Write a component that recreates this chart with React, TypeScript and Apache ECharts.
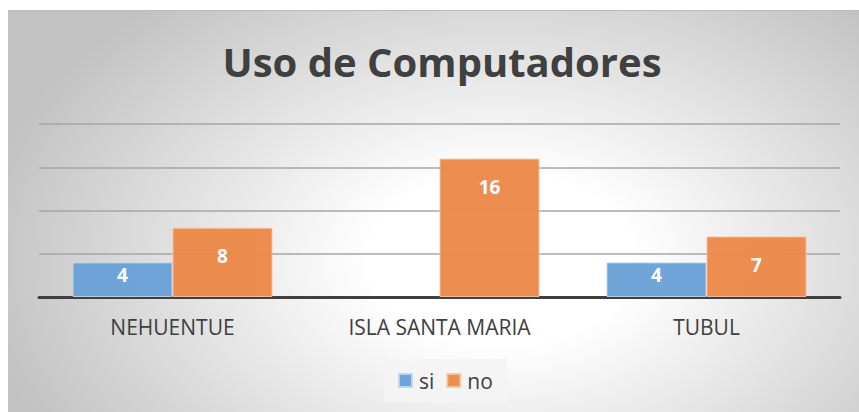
import React, { useEffect, useRef } from "react";
import * as echarts from "echarts";

const categories = ["NEHUENTUE", "ISLA SANTA MARIA", "TUBUL"];
const siValues: (number | null)[] = [4, null, 4];
const noValues: (number | null)[] = [8, 16, 7];
const seriesNames = ["si", "no"];
const titleText = "Uso de Computadores";

const FONT = "'Open Sans', 'Noto Sans', sans-serif";

function mkData(vals: (number | null)[]) {
  return vals.map((v) =>
    v == null
      ? null
      : {
          value: v,
          label: { distance: v <= 4 ? 3 : 19 },
        }
  );
}

export default function App() {
  const ref = useRef<HTMLDivElement>(null);
  useEffect(() => {
    if (!ref.current) return;
    const chart = echarts.init(ref.current, undefined, { renderer: "svg" });
    const label = {
      show: true,
      position: "insideTop" as const,
      color: "#ffffff",
      fontFamily: FONT,
      fontWeight: "bold" as const,
      fontSize: 19,
    };
    chart.setOption({
      animation: false,
      backgroundColor: "transparent",
      title: {
        text: titleText,
        left: 437 - 8,
        textAlign: "center",
        top: 25,
        textStyle: {
          fontFamily: FONT,
          fontWeight: "bold",
          fontSize: 40,
          color: "#404040",
        },
      },
      legend: {
        left: 376,
        top: 348,
        itemWidth: 13,
        itemHeight: 13,
        itemGap: 12,
        padding: [11, 14, 11, 14],
        backgroundColor: "rgba(244,244,244,0.9)",
        icon: "rect",
        textStyle: { fontFamily: FONT, fontSize: 21, color: "#404040", padding: [0, 0, 0, 2] },
        data: seriesNames,
      },
      grid: { left: 31, right: 19, top: 113, bottom: 115 },
      xAxis: {
        type: "category",
        data: categories,
        axisLine: { lineStyle: { color: "#404040", width: 3 } },
        axisTick: { show: false },
        axisLabel: {
          fontFamily: FONT,
          fontSize: 21,
          color: "#404040",
          margin: 19,
        },
      },
      yAxis: {
        type: "value",
        min: 0,
        max: 20,
        interval: 5,
        axisLabel: { show: false },
        axisLine: { show: false },
        axisTick: { show: false },
        splitLine: { lineStyle: { color: "#a6a6a6", width: 1.5 } },
      },
      series: [
        {
          name: seriesNames[0],
          type: "bar",
          barWidth: 100,
          barGap: "0%",
          data: mkData(siValues),
          itemStyle: {
            color: "rgba(104,160,215,0.95)",
            borderColor: "rgba(190,215,240,0.9)",
            borderWidth: 1,
          },
          label,
        },
        {
          name: seriesNames[1],
          type: "bar",
          barWidth: 100,
          barGap: "0%",
          data: mkData(noValues),
          itemStyle: {
            color: "rgba(236,135,70,0.95)",
            borderColor: "rgba(248,195,160,0.9)",
            borderWidth: 1,
          },
          label,
        },
      ],
    });
    return () => chart.dispose();
  }, []);
  return (
    <div
      style={{
        position: "absolute",
        left: 8,
        top: 10,
        width: 851,
        height: 402,
        borderTop: "1px solid #bbbbbb",
        boxSizing: "border-box",
        background:
          "radial-gradient(ellipse 62% 85% at 58% 62%, #ffffff 25%, #c2c2c2 100%)",
      }}
    >
      <div ref={ref} style={{ width: 851, height: 401 }} />
    </div>
  );
}
